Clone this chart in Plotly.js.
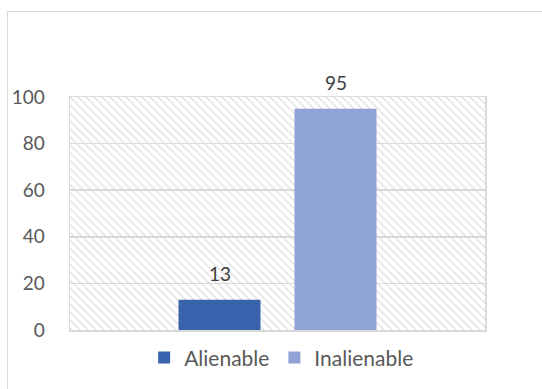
<!DOCTYPE html>
<html><head><meta charset="utf-8">
<script src="https://cdn.plot.ly/plotly-3.0.1.min.js"></script>
<style>
html,body{margin:0;padding:0;background:#fff;}
#wrap{position:relative;width:542px;height:389px;overflow:hidden;}
#frame{position:absolute;left:7px;top:11px;width:600px;height:500px;border:1.5px solid #d9d9d9;box-sizing:border-box;}
#chart{position:absolute;left:0;top:0;width:542px;height:389px;}
</style></head>
<body><div id="wrap"><div id="frame"></div><div id="chart"></div></div>
<script>
const categories = ["Ownership"];
const seriesNames = ["Alienable", "Inalienable"];
const alienable = [13];
const inalienable = [95];
const seriesColors = ["#3a63ad", "#8fa4d4"];
const yTicks = [0, 20, 40, 60, 80, 100];

const FONT = "Lato, 'Open Sans', sans-serif";
const hatch = "data:image/svg+xml;utf8," + encodeURIComponent(
  '<svg xmlns="http://www.w3.org/2000/svg" width="415" height="234">' +
  '<defs><pattern id="p" width="8" height="8" patternUnits="userSpaceOnUse">' +
  '<path d="M-2,-2 L10,10 M-2,6 L2,10 M6,-2 L10,2" stroke="#e0e0e0" stroke-width="1.3"/></pattern></defs>' +
  '<rect width="415" height="234" fill="url(#p)"/></svg>');

const vals = [alienable, inalienable];
const traces = seriesNames.map((n, i) => ({
  type: "bar", name: n, x: categories, y: vals[i],
  marker: {color: seriesColors[i]},
  hoverinfo: "none"
}));

// value labels above each bar of the group (offset by half a group slot)
const slotShift = [-58, 58];
const annotations = [];
vals.forEach((arr, i) => arr.forEach((v, j) => annotations.push({
  x: categories[j], y: v, xref: "x", yref: "y", text: String(v), showarrow: false,
  xshift: slotShift[i], yshift: 26, yanchor: "middle",
  font: {family: FONT, size: 19, color: "#404040"}
})));

const layout = {
  width: 542, height: 389,
  margin: {l: 70, r: 57, t: 97, b: 58},
  paper_bgcolor: "rgba(0,0,0,0)",
  plot_bgcolor: "rgba(0,0,0,0)",
  barmode: "group", bargap: 0.441, bargroupgap: 0.293,
  showlegend: true,
  legend: {orientation: "h", x: 0.51, xanchor: "center", y: -0.115, yanchor: "middle",
    font: {family: FONT, size: 21, color: "#595959"}, itemwidth: 30, traceorder: "normal"},
  xaxis: {type: "category", range: [-0.5, 0.5], showticklabels: false, showgrid: false, zeroline: false,
    showline: true, mirror: true, linecolor: "#d9d9d9", linewidth: 1.5, fixedrange: true},
  yaxis: {range: [0, 100], tickvals: yTicks, showgrid: true, gridcolor: "#d9d9d9", gridwidth: 1.5,
    zeroline: false, showline: true, mirror: true, linecolor: "#d9d9d9", linewidth: 1.5,
    ticklabelstandoff: 20,
    tickfont: {family: FONT, size: 19, color: "#595959"}, fixedrange: true},
  annotations: annotations,
  images: [{source: hatch, xref: "paper", yref: "paper", x: 0, y: 1, sizex: 1, sizey: 1,
    sizing: "stretch", layer: "below", xanchor: "left", yanchor: "top"}]
};
Plotly.newPlot("chart", traces, layout, {displayModeBar: false, staticPlot: true});
</script></body></html>
